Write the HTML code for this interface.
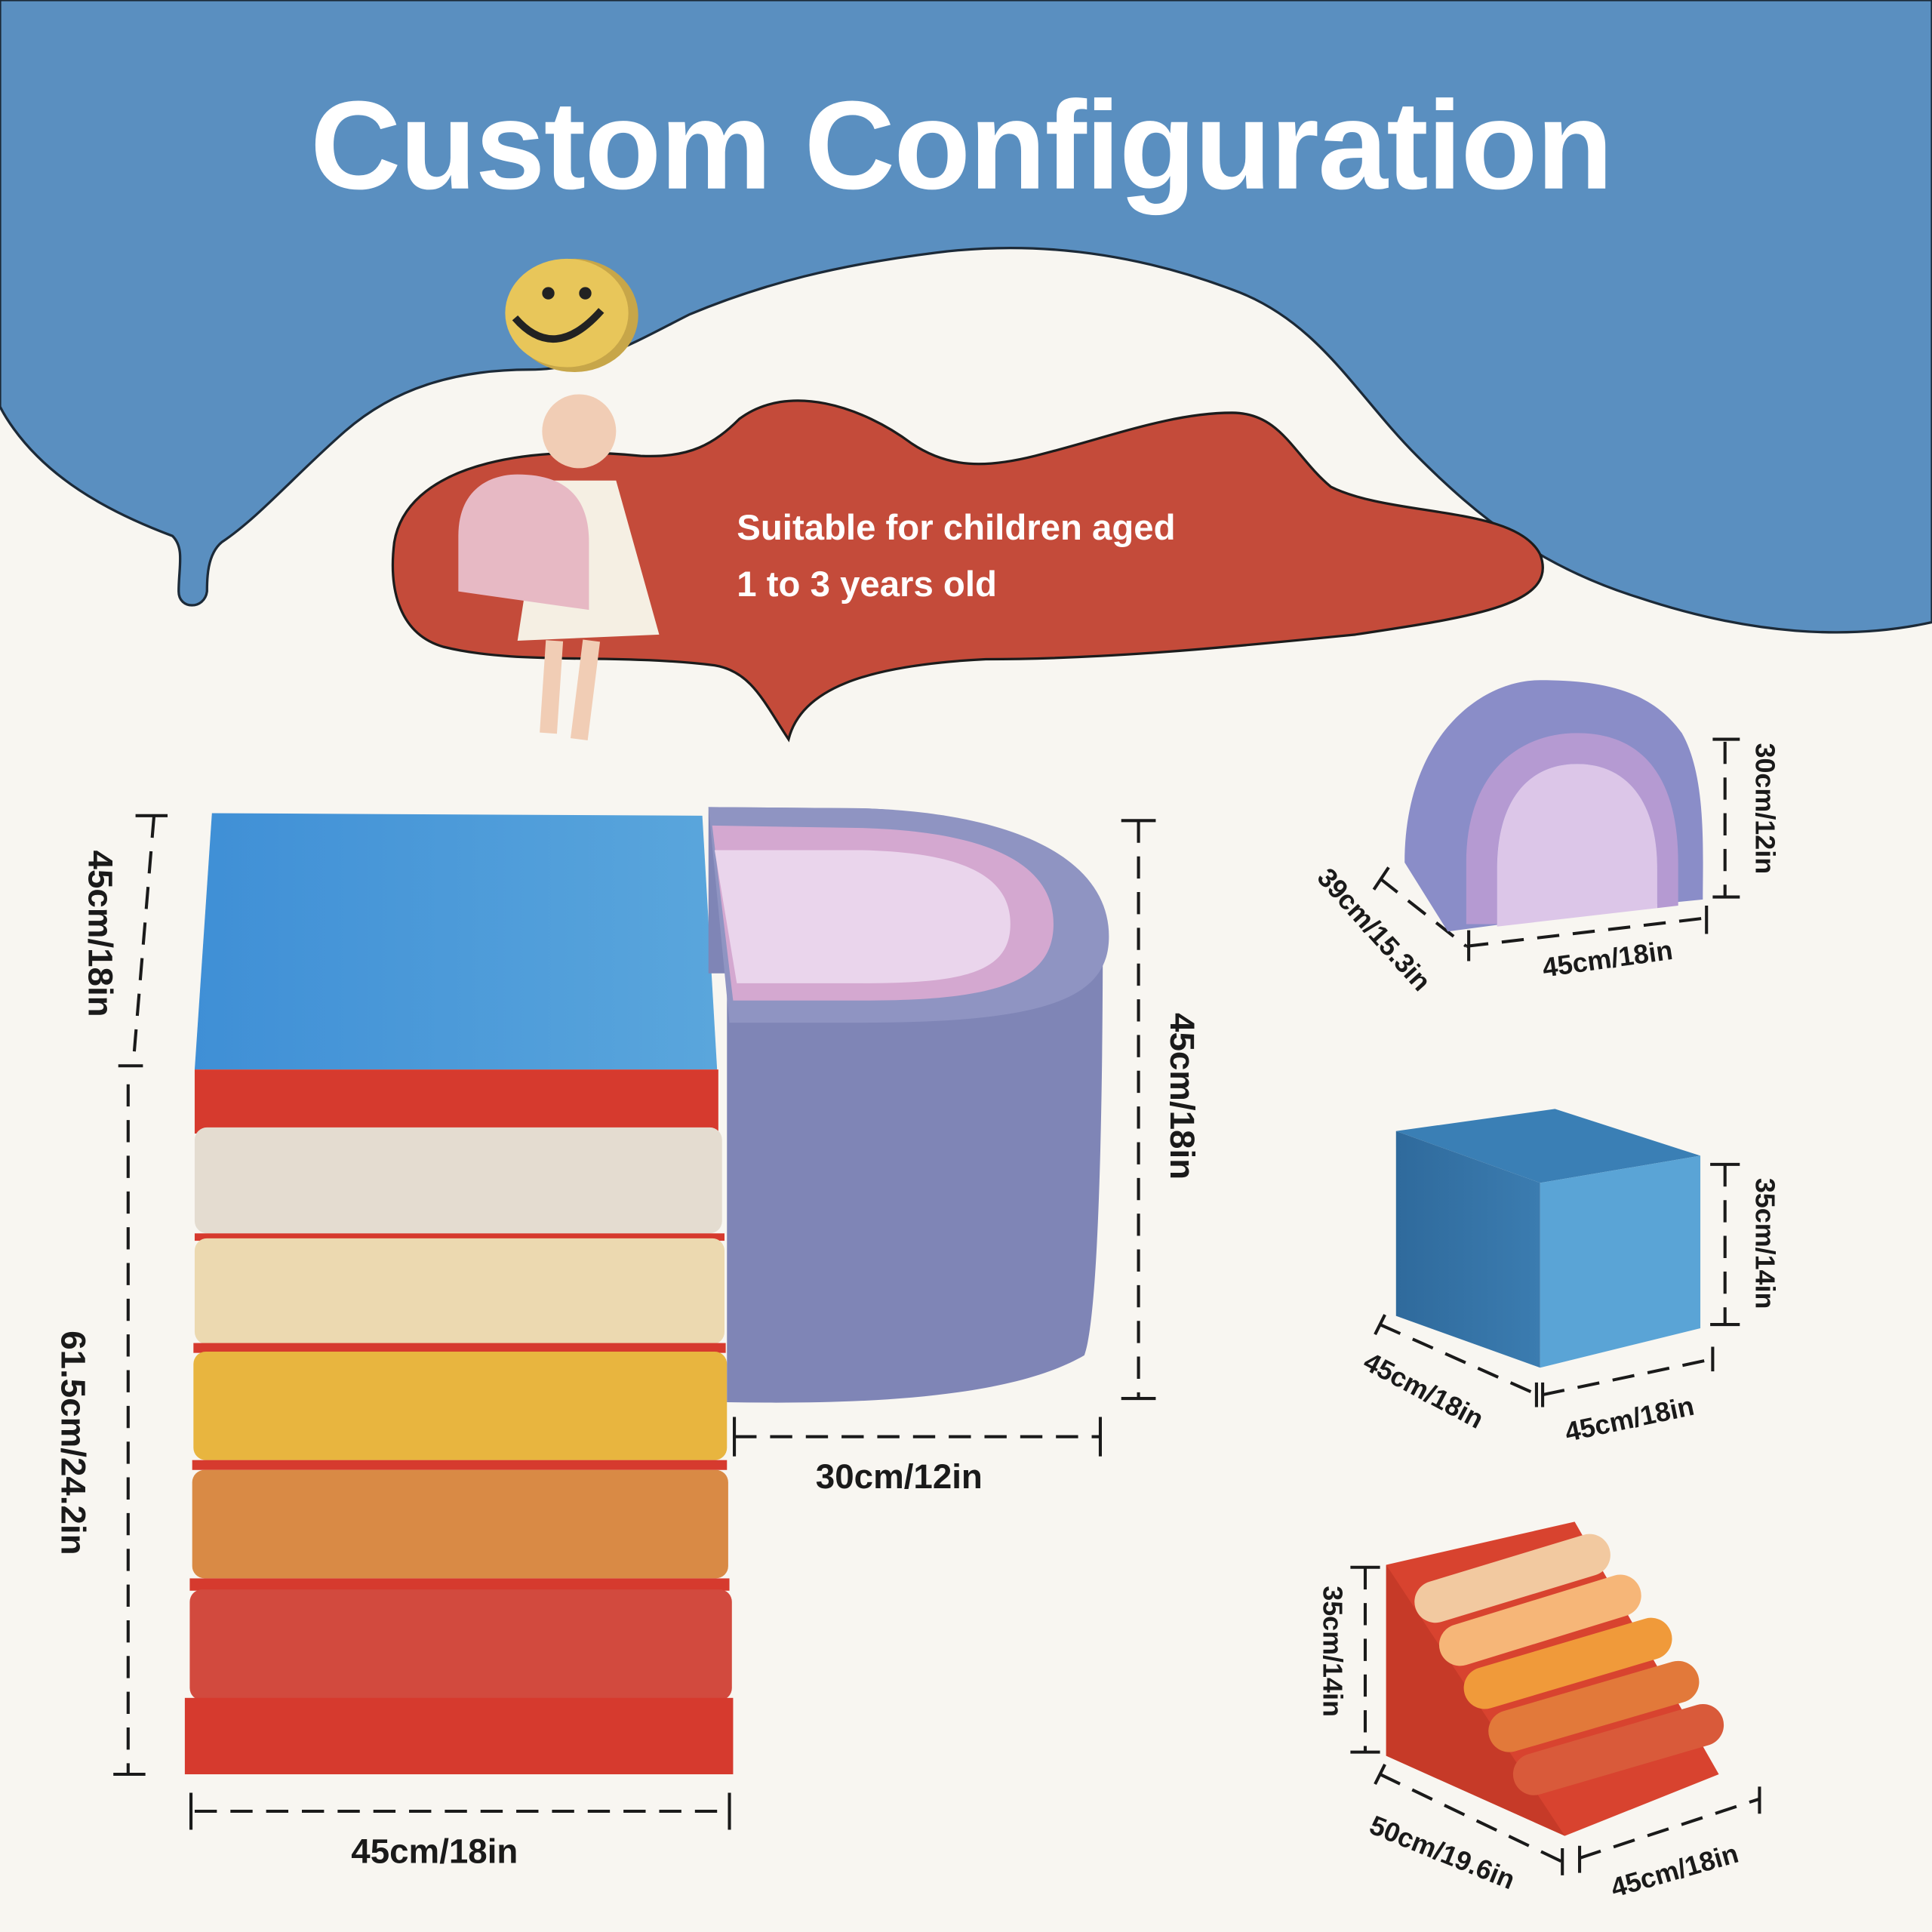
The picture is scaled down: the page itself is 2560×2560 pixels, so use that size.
<!DOCTYPE html>
<html><head><meta charset="utf-8"><style>
html,body{margin:0;padding:0;background:#f8f6f1}
svg{display:block}
text{font-family:"Liberation Sans",sans-serif;font-weight:bold}
</style></head><body>
<svg width="2560" height="2560" viewBox="0 0 1568 1568" xmlns="http://www.w3.org/2000/svg">
<defs>
<linearGradient id="bl" x1="0" x2="1"><stop offset="0" stop-color="#3f8fd6"/><stop offset="1" stop-color="#5aa6dc"/></linearGradient>
<linearGradient id="cb" x1="0" x2="1"><stop offset="0" stop-color="#2f6a9c"/><stop offset="1" stop-color="#3b7cb0"/></linearGradient>
</defs>
<rect width="1568" height="1568" fill="#f8f6f1"/>
<path d="M0 0 H1568 V505 C1500 520 1420 515 1330 485 C1250 460 1200 420 1150 370 C1100 320 1070 260 1000 235 C920 205 840 195 760 205 C680 215 620 230 560 255 C520 275 480 300 430 300 C370 300 320 315 280 350 C240 385 210 420 180 440 C168 450 168 470 168 480 C166 495 145 495 145 480 C145 460 150 445 140 435 C100 420 60 400 30 370 C15 355 5 340 0 330 Z" fill="#5a8fc0" stroke="#1c2a38" stroke-width="2"/>
<text x="780" y="153" text-anchor="middle" font-size="102" fill="#fff" letter-spacing="-1" style="font-weight:900">Custom Configuration</text>
<ellipse cx="466" cy="256" rx="52" ry="46" fill="#c7a649"/>
<ellipse cx="460" cy="254" rx="50" ry="44" fill="#e8c65a"/>
<circle cx="445" cy="238" r="5" fill="#222"/><circle cx="475" cy="238" r="5" fill="#222"/>
<path d="M418 258 Q450 295 488 252" stroke="#222" stroke-width="6" fill="none"/>
<path d="M320 440 C330 380 420 360 520 370 C560 372 580 360 600 340 C640 310 700 330 740 360 C770 380 800 380 840 370 C900 355 950 335 1000 335 C1040 335 1050 370 1080 395 C1130 420 1230 410 1250 450 C1265 490 1200 500 1100 515 C1000 525 900 535 800 535 C700 540 650 560 640 600 C620 570 610 545 580 540 C500 530 420 540 360 525 C325 515 315 480 320 440 Z" fill="#c44b3a" stroke="#1c1c1c" stroke-width="2"/>
<text x="598" y="438" font-size="29" fill="#fff">Suitable for children aged</text>
<text x="598" y="484" font-size="29" fill="#fff">1 to 3 years old</text>
<circle cx="470" cy="350" r="30" fill="#f1cdb5"/>
<path d="M440 390 L500 390 L535 515 L420 520 Z" fill="#f5efe3"/>
<path d="M372 480 V435 C372 395 400 385 420 385 C455 385 478 400 478 440 V495 Z" fill="#e7b9c4"/>
<path d="M450 520 L445 595 M480 520 L470 600" stroke="#f1cdb5" stroke-width="14"/>
<path d="M172 660 L570 662 L582 868 L158 868 Z" fill="url(#bl)"/>
<rect x="158" y="868" width="425" height="52" fill="#d63a2e"/>
<rect x="158" y="915" width="428" height="86" rx="10" fill="#e4dcd0"/>
<rect x="158" y="1001" width="430" height="6" fill="#d63a2e"/>
<rect x="158" y="1005" width="430" height="86" rx="10" fill="#ecd9b0"/>
<rect x="157" y="1090" width="432" height="8" fill="#d63a2e"/>
<rect x="157" y="1097" width="433" height="88" rx="10" fill="#e8b53f"/>
<rect x="156" y="1185" width="434" height="8" fill="#d63a2e"/>
<rect x="156" y="1193" width="435" height="88" rx="10" fill="#d98a45"/>
<rect x="154" y="1281" width="438" height="10" fill="#d63a2e"/>
<rect x="154" y="1290" width="440" height="90" rx="10" fill="#d24a3e"/>
<rect x="150" y="1378" width="445" height="62" fill="#d63a2e"/>
<path d="M590 790 V1138 C700 1140 820 1135 880 1100 C895 1060 895 800 895 760 C895 700 820 660 700 656 L575 655 V790 Z" fill="#7f85b6"/>
<path d="M575 655 L700 656 C830 660 900 700 900 760 C900 810 850 830 700 830 L592 830 Z" fill="#8f94c2"/>
<path d="M578 670 L700 672 C800 675 855 700 855 750 C855 800 800 812 700 812 L595 812 Z" fill="#d4a8d0"/>
<path d="M580 690 L700 690 C780 692 820 710 820 750 C820 790 780 798 700 798 L598 798 Z" fill="#ead5ec"/>
<g stroke="#1a1a1a" stroke-width="2.5" fill="none" stroke-dasharray="18 11">
<path d="M125 662 L108 865"/><path d="M104 880 L104 1440"/>
<path d="M158 1470 L592 1470"/><path d="M596 1166 L893 1166"/><path d="M924 666 L924 1135"/>
<path d="M1400 602 L1400 728"/><path d="M1190 768 L1385 745"/><path d="M1120 713 L1190 768"/>
<path d="M1400 945 L1400 1075"/><path d="M1120 1075 L1248 1132"/><path d="M1252 1132 L1390 1103"/>
<path d="M1108 1272 L1108 1422"/><path d="M1120 1440 L1270 1512"/><path d="M1282 1508 L1428 1460"/>
</g>
<g stroke="#1a1a1a" stroke-width="2.5">
<path d="M110 662 H136 M96 865 H116 M92 1440 H118 M155 1455 V1485 M592 1455 V1485 M596 1150 V1182 M893 1150 V1182 M910 666 H938 M910 1135 H938 M1390 600 H1412 M1390 728 H1412 M1192 755 V780 M1385 735 V758 M1115 722 L1127 704 M1388 945 H1412 M1388 1075 H1412 M1116 1083 L1124 1067 M1247 1122 V1142 M1252 1122 V1142 M1390 1093 V1113 M1096 1272 H1120 M1096 1422 H1120 M1116 1448 L1124 1432 M1268 1500 V1522 M1282 1498 V1520 M1428 1450 V1472"/>
</g>
<g fill="#1a1a1a" font-size="28">
<text transform="translate(72 690) rotate(90)">45cm/18in</text>
<text transform="translate(50 1080) rotate(90)">61.5cm/24.2in</text>
<text x="285" y="1512">45cm/18in</text>
<text x="662" y="1208">30cm/12in</text>
<text transform="translate(950 822) rotate(90)">45cm/18in</text>
<text transform="translate(1425 603) rotate(90)" font-size="22">30cm/12in</text>
<text transform="translate(1253 793) rotate(-8)" font-size="22">45cm/18in</text>
<text transform="translate(1068 713) rotate(48)" font-size="22">39cm/15.3in</text>
<text transform="translate(1425 956) rotate(90)" font-size="22">35cm/14in</text>
<text transform="translate(1105 1110) rotate(28)" font-size="22">45cm/18in</text>
<text transform="translate(1272 1170) rotate(-12)" font-size="22">45cm/18in</text>
<text transform="translate(1074 1287) rotate(90)" font-size="22">35cm/14in</text>
<text transform="translate(1110 1487) rotate(22)" font-size="22">50cm/19.6in</text>
<text transform="translate(1310 1540) rotate(-16)" font-size="22">45cm/18in</text>
</g>
<path d="M1140 700 C1140 600 1200 552 1250 552 C1300 552 1340 560 1365 595 C1385 630 1382 690 1382 730 L1332 735 L1175 756 Z" fill="#8a8dc8"/>
<path d="M1190 750 V700 C1190 630 1230 595 1280 595 C1340 595 1362 640 1362 700 V735 L1345 737 V705 C1345 650 1320 620 1280 620 C1240 620 1215 650 1215 705 V750 Z" fill="#b59ad2"/>
<path d="M1215 752 V705 C1215 650 1240 620 1280 620 C1320 620 1345 650 1345 705 V737 Z" fill="#dcc6e8"/>
<path d="M1133 918 L1262 900 L1380 938 L1250 960 Z" fill="#3a7fb5"/>
<path d="M1133 918 L1250 960 V1110 L1133 1068 Z" fill="url(#cb)"/>
<path d="M1250 960 L1380 938 V1078 L1250 1110 Z" fill="#5aa4d6"/>
<path d="M1125 1270 L1278 1235 L1395 1440 L1270 1490 L1125 1425 Z" fill="#d8432f"/>
<path d="M1125 1270 L1270 1490 L1125 1425 Z" fill="#c63a28"/>
<g stroke-linecap="round" stroke-width="34">
<path d="M1165 1300 L1290 1262" stroke="#f2c9a0"/>
<path d="M1185 1335 L1315 1295" stroke="#f6b678"/>
<path d="M1205 1370 L1340 1330" stroke="#f09a3a"/>
<path d="M1225 1405 L1362 1365" stroke="#e2793a"/>
<path d="M1245 1440 L1382 1400" stroke="#d95a3a"/>
</g>
</svg>
</body></html>
